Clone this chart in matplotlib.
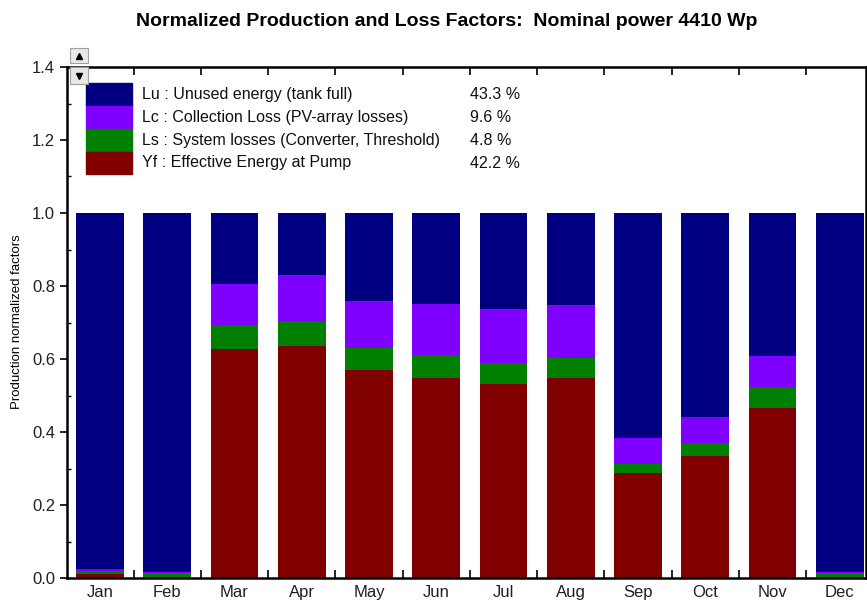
import numpy as np
import matplotlib.pyplot as plt
from matplotlib.patches import Rectangle
from matplotlib.ticker import MultipleLocator, FixedLocator

plt.rcParams['font.family'] = ['Liberation Sans', 'DejaVu Sans']

months = ['Jan', 'Feb', 'Mar', 'Apr', 'May', 'Jun', 'Jul', 'Aug', 'Sep', 'Oct', 'Nov', 'Dec']

# normalized factors per month (stack order: Yf, Ls, Lc, Lu -> total 1.0)
yf = [0.012, 0.000, 0.628, 0.635, 0.569, 0.549, 0.532, 0.549, 0.288, 0.334, 0.466, 0.000]
ls = [0.008, 0.013, 0.065, 0.070, 0.062, 0.061, 0.058, 0.053, 0.025, 0.037, 0.056, 0.013]
lc = [0.004, 0.003, 0.112, 0.124, 0.128, 0.140, 0.148, 0.145, 0.070, 0.070, 0.086, 0.004]
lu = [1 - a - b - c for a, b, c in zip(yf, ls, lc)]

legend_labels = ['Lu : Unused energy (tank full)',
                 'Lc : Collection Loss (PV-array losses)',
                 'Ls : System losses (Converter, Threshold)',
                 'Yf : Effective Energy at Pump']
legend_pct = ['43.3 %', '9.6 %', '4.8 %', '42.2 %']

colors = {'Lu': '#000080', 'Lc': '#8000ff', 'Ls': '#008000', 'Yf': '#800000'}

W, H = 867, 601
fig = plt.figure(figsize=(W / 100, H / 100), dpi=100)
ax = fig.add_axes([67 / W, 23 / H, (866 - 67) / W, (578 - 67) / H])

x = np.arange(len(months))
bw = 0.71
bottom = np.zeros(len(months))
for key, vals in [('Yf', yf), ('Ls', ls), ('Lc', lc), ('Lu', lu)]:
    ax.bar(x, vals, bw, bottom=bottom, color=colors[key], linewidth=0)
    bottom += np.array(vals)

ax.set_xlim(-0.49, 11.39)
ax.set_ylim(0, 1.4)

# x: ticks between months, month names at centres
ax.xaxis.set_major_locator(FixedLocator(x[:-1] + 0.5))
ax.xaxis.set_minor_locator(FixedLocator(x))
ax.set_xticklabels(months, minor=True)
ax.tick_params(axis='x', which='major', direction='in', length=6, width=1.2,
               top=True, labelbottom=False)
ax.tick_params(axis='x', which='minor', length=0, pad=5, labelsize=12,
               labelcolor='#202020')

# y: outward majors, inward minors
ax.yaxis.set_major_locator(MultipleLocator(0.2))
ax.yaxis.set_minor_locator(MultipleLocator(0.1))
ax.yaxis.set_major_formatter(plt.FuncFormatter(lambda v, p: f'{v:.1f}'))
ax.tick_params(axis='y', which='major', direction='out', length=5, width=1.2,
               labelsize=12, labelcolor='#202020')
ax.tick_params(axis='y', which='minor', direction='in', length=3, width=1.0)
for s in ax.spines.values():
    s.set_linewidth(1.8)

fig.text(17 / W, 1 - 322 / H, 'Production normalized factors', rotation=90,
         ha='center', va='center', fontsize=9.5)

fig.text(447 / W, 1 - 21 / H,
         'Normalized Production and Loss Factors:  Nominal power 4410 Wp',
         ha='center', va='center', fontsize=14, fontweight='bold')

# legend block
rows = [('Lu', 83, 106), ('Lc', 106, 129), ('Ls', 129, 152), ('Yf', 152, 174)]
for (key, y0, y1), lab, pct in zip(rows, legend_labels, legend_pct):
    fig.patches.append(Rectangle((86 / W, 1 - y1 / H), 46 / W, (y1 - y0) / H,
                                 transform=fig.transFigure, color=colors[key]))
    yc = 1 - (y0 + y1) / 2 / H
    fig.text(142 / W, yc, lab, ha='left', va='center', fontsize=11.5, color='#101010')
    fig.text(470 / W, yc, pct, ha='left', va='center', fontsize=11.5, color='#101010')

# small scroll buttons at the top-left corner
for y0, y1, mk in [(48, 63, '^'), (67, 84, 'v')]:
    fig.patches.append(Rectangle((70 / W, 1 - y1 / H), 18 / W, (y1 - y0) / H,
                                 transform=fig.transFigure, facecolor='#e8e8e8',
                                 edgecolor='#a0a0a0', linewidth=0.8, zorder=5))
    fig.add_artist(plt.Line2D([79 / W], [1 - (y0 + y1) / 2 / H], marker=mk,
                              markersize=4, color='black', linestyle='none',
                              transform=fig.transFigure, zorder=6))

fig.savefig('out.png', dpi=100)
